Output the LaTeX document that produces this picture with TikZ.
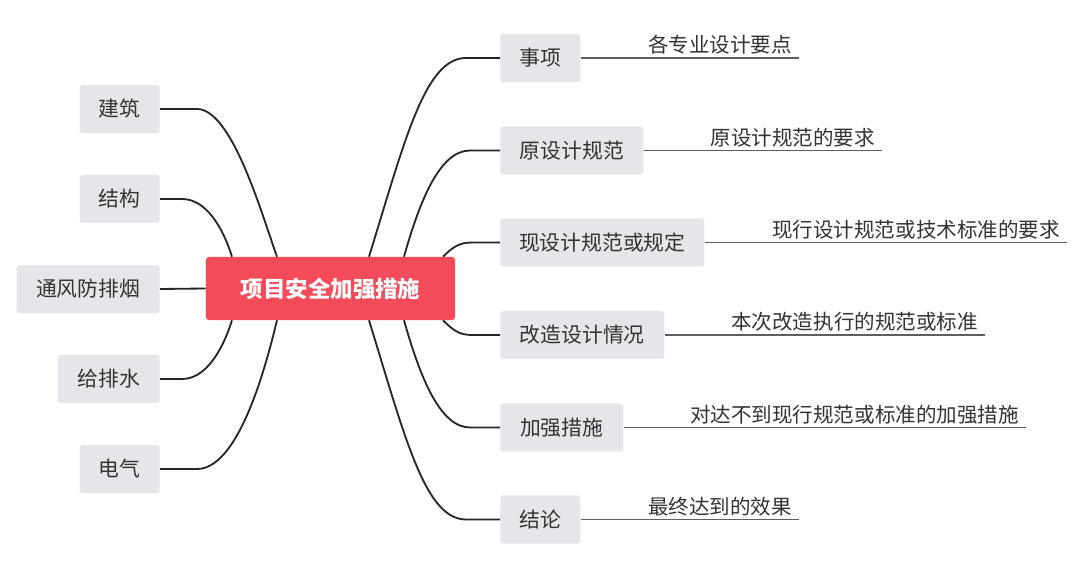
\documentclass[tikz,border=0pt]{standalone}
\usepackage{fontspec}
\setmainfont{Noto Sans CJK SC}
\usetikzlibrary{calc}
\definecolor{topicred}{RGB}{244,75,90}
\definecolor{boxgray}{RGB}{228,230,233}
\definecolor{inkgray}{RGB}{51,51,51}
\definecolor{rulegray}{RGB}{95,95,95}

\begin{document}
\begin{tikzpicture}[x=0.025cm,y=-0.025cm,
    topic/.style={fill=topicred,rounded corners=2pt,text=white,
      font=\fontsize{16}{16}\selectfont\bfseries,
      minimum width=6.225cm,minimum height=1.575cm},
    branch/.style={fill=boxgray,rounded corners=2pt,text=inkgray,
      font=\fontsize{14.8}{15}\selectfont,minimum height=1.2cm,inner xsep=0pt},
    note/.style={text=inkgray,font=\fontsize{14.6}{15}\selectfont,
      inner sep=0pt,anchor=base east},
    link/.style={line width=1.3pt,draw=black!85},
    rule/.style={line width=0.9pt,draw=rulegray}]
    \useasboundingbox (0,0) rectangle (1080,582);

    % Central topic
    \node[topic] (c) at (330.5,288.5) {项目安全加强措施};

    % Left branches
    \node[branch,anchor=east,minimum width=2cm] (jz) at (160,109) {建筑};
    \node[branch,anchor=east,minimum width=2cm] (jg) at (160,199) {结构};
    \node[branch,anchor=east,minimum width=3.575cm] (tf) at (160,289) {通风防排烟};
    \node[branch,anchor=east,minimum width=2.55cm] (gps) at (160,379) {给排水};
    \node[branch,anchor=east,minimum width=2cm] (dq) at (160,469) {电气};

    % Right branches
    \node[branch,anchor=west,minimum width=2cm] (sx) at (500,58) {事项};
    \node[branch,anchor=west,minimum width=3.575cm] (ysj) at (500,150.5) {原设计规范};
    \node[branch,anchor=west,minimum width=5.1cm] (xsj) at (500,242.5) {现设计规范或规定};
    \node[branch,anchor=west,minimum width=4.1cm] (gz) at (500,335) {改造设计情况};
    \node[branch,anchor=west,minimum width=3.075cm] (jq) at (500,427.5) {加强措施};
    \node[branch,anchor=west,minimum width=2cm] (jl) at (500,519.5) {结论};

    % Left connectors
    \draw[link] (jz.east) -- ++(37,0) .. controls (232,109) and (262,215) .. ($(c.north)+(-53.5,0)$);
    \draw[link] (jg.east) -- ++(22,0) .. controls (205,199) and (222,225) .. ($(c.north)+(-98.5,0)$);
    \draw[link] (tf.east) -- (c.west);
    \draw[link] (gps.east) -- ++(22,0) .. controls (205,379) and (222,352) .. ($(c.south)+(-98.5,0)$);
    \draw[link] (dq.east) -- ++(37,0) .. controls (238,469) and (265,370) .. ($(c.south)+(-53.5,0)$);

    % Right connectors
    \draw[link] ($(c.north)+(38.5,0)$) .. controls (405,140) and (425,58) .. (466,58) -- (sx.west);
    \draw[link] ($(c.north)+(73.5,0)$) .. controls (420,200) and (440,150.5) .. (470,150.5) -- (ysj.west);
    \draw[link] ($(c.north)+(112.5,0)$) .. controls (452,248) and (458,242.5) .. (472,242.5) -- (xsj.west);
    \draw[link] ($(c.south)+(112.5,0)$) .. controls (452,329) and (458,335) .. (472,335) -- (gz.west);
    \draw[link] ($(c.south)+(73.5,0)$) .. controls (420,377) and (440,427.5) .. (470,427.5) -- (jq.west);
    \draw[link] ($(c.south)+(38.5,0)$) .. controls (405,437) and (425,519.5) .. (466,519.5) -- (jl.west);

    % Notes with underlines
    \coordinate (e1) at (799,58);
    \coordinate (e2) at (882,150.5);
    \coordinate (e3) at (1067,242.5);
    \coordinate (e4) at (985,335);
    \coordinate (e5) at (1026,427.5);
    \coordinate (e6) at (799,519.5);
    \draw[rule] (sx.east) -- (e1);
    \draw[rule] (ysj.east) -- (e2);
    \draw[rule] (xsj.east) -- (e3);
    \draw[rule] (gz.east) -- (e4);
    \draw[rule] (jq.east) -- (e5);
    \draw[rule] (jl.east) -- (e6);
    \node[note] (n1) at ($(e1)+(-7,-5)$) {各专业设计要点};
    \node[note] (n2) at ($(e2)+(-7,-5)$) {原设计规范的要求};
    \node[note] (n3) at ($(e3)+(-7,-5)$) {现行设计规范或技术标准的要求};
    \node[note] (n4) at ($(e4)+(-7,-5)$) {本次改造执行的规范或标准};
    \node[note] (n5) at ($(e5)+(-7,-5)$) {对达不到现行规范或标准的加强措施};
    \node[note] (n6) at ($(e6)+(-7,-5)$) {最终达到的效果};
\end{tikzpicture}
\end{document}
